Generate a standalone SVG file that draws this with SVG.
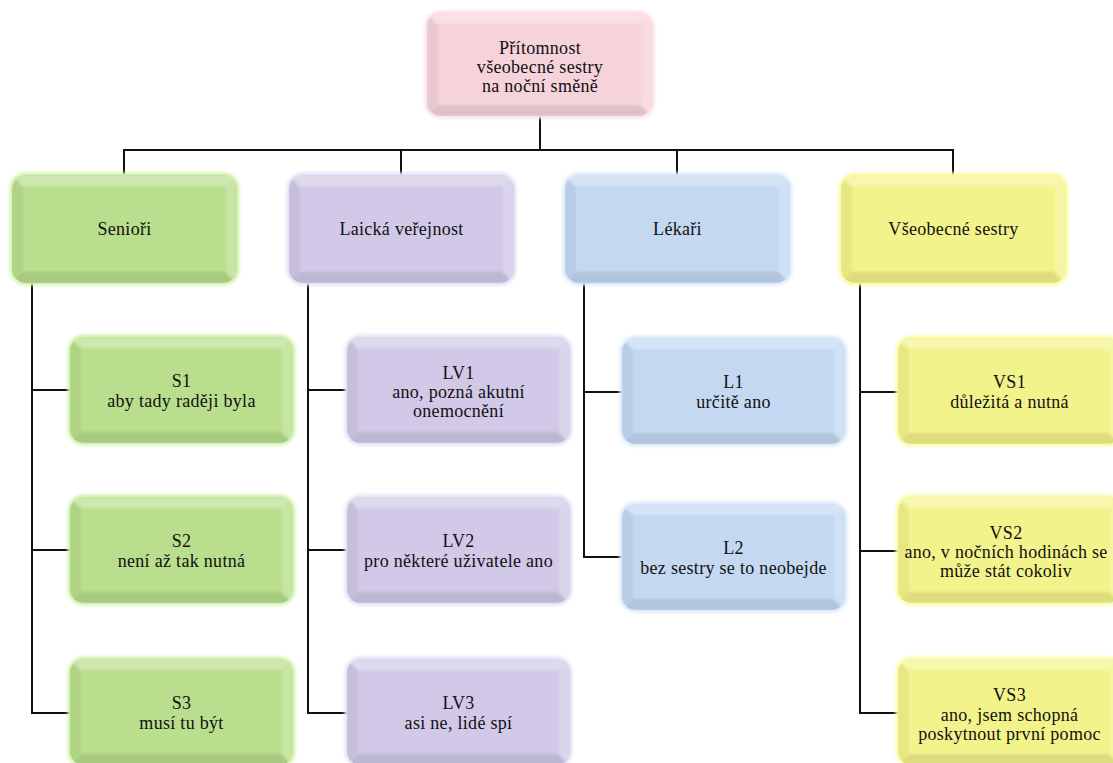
<svg xmlns="http://www.w3.org/2000/svg" xmlns:xlink="http://www.w3.org/1999/xlink" width="1113" height="763" viewBox="0 0 1113 763" font-family="Liberation Serif, Times New Roman, Times, serif">
  <defs>
    <style>
      text { font-size: 18px; letter-spacing: 0.3px; text-anchor: middle; fill: #111; }
      .line { fill: none; stroke: #111; stroke-width: 2; stroke-linecap: square; }
      .pink   { fill: #F6D3DB; color: #FAE2E7; }
      .green  { fill: #B9DE8D; color: #D3F3AE; }
      .purple { fill: #D1C9E7; color: #E7E1F7; }
      .blue   { fill: #C4D8F2; color: #DCEAFB; }
      .yellow { fill: #F3F38B; color: #FBFBA8; }
    </style>
    <filter id="glow" x="-10%" y="-10%" width="120%" height="120%">
      <feGaussianBlur stdDeviation="1.8"/>
    </filter>
    <filter id="soft" x="-5%" y="-5%" width="110%" height="110%">
      <feGaussianBlur stdDeviation="1.3"/>
    </filter>
    <clipPath id="boxclip">
      <rect x="0" y="0" width="224" height="106" rx="14"/>
    </clipPath>
    <!-- bevelled rounded box: face takes the fill, outer glow takes currentColor -->
    <symbol id="box" viewBox="0 0 224 106" preserveAspectRatio="none" overflow="visible">
      <rect x="-2.5" y="-2.5" width="229" height="111" rx="16" fill="currentColor" filter="url(#glow)"/>
      <rect x="0" y="0" width="224" height="106" rx="14"/>
      <g clip-path="url(#boxclip)">
        <g filter="url(#soft)">
          <polygon points="0,0 224,0 213,11 11,11" fill="#fff" fill-opacity="0.3"/>
          <polygon points="0,0 11,11 11,95 0,106" fill="#000" fill-opacity="0.05"/>
          <polygon points="224,0 224,106 213,95 213,11" fill="#fff" fill-opacity="0.2"/>
          <polygon points="0,106 11,95 213,95 224,106" fill="#000" fill-opacity="0.09"/>
        </g>
      </g>
    </symbol>
  </defs>

  <rect x="0" y="0" width="1113" height="763" fill="#fff"/>

  <!-- connectors -->
  <g id="connectors" class="line">
    <path d="M540 116 V150 M124 150 H953 M124 150 V175 M401 150 V175 M677 150 V175 M953 150 V175"/>
    <path d="M32 283 V713 M32 390 H70 M32 550 H70 M32 713 H70"/>
    <path d="M308 283 V713 M308 390 H347 M308 550 H347 M308 713 H347"/>
    <path d="M584 283 V557 M584 392 H622 M584 557 H622"/>
    <path d="M860 283 V713 M860 392 H898 M860 551 H898 M860 713 H898"/>
  </g>

  <!-- root -->
  <g id="root">
    <use xlink:href="#box" class="pink" x="427" y="13" width="225" height="103"/>
    <text x="540" y="54">Přítomnost<tspan x="540" dy="19">všeobecné sestry</tspan><tspan x="540" dy="19">na noční směně</tspan></text>
  </g>

  <!-- groups -->
  <g id="seniori">
    <use xlink:href="#box" class="green" x="12" y="175" width="225" height="108"/>
    <text x="124.5" y="235">Senioři</text>
  </g>
  <g id="laicka-verejnost">
    <use xlink:href="#box" class="purple" x="289" y="175" width="225" height="108"/>
    <text x="401.5" y="235">Laická veřejnost</text>
  </g>
  <g id="lekari">
    <use xlink:href="#box" class="blue" x="565" y="175" width="225" height="108"/>
    <text x="677.5" y="235">Lékaři</text>
  </g>
  <g id="vseobecne-sestry">
    <use xlink:href="#box" class="yellow" x="841" y="175" width="225" height="108"/>
    <text x="953.5" y="235">Všeobecné sestry</text>
  </g>

  <!-- seniors -->
  <g id="s1">
    <use xlink:href="#box" class="green" x="70" y="337" width="223" height="106"/>
    <text x="181.5" y="387">S1<tspan x="181.5" dy="20">aby tady raději byla</tspan></text>
  </g>
  <g id="s2">
    <use xlink:href="#box" class="green" x="70" y="497" width="223" height="106"/>
    <text x="181.5" y="547">S2<tspan x="181.5" dy="20">není až tak nutná</tspan></text>
  </g>
  <g id="s3">
    <use xlink:href="#box" class="green" x="70" y="659" width="223" height="106"/>
    <text x="181.5" y="709">S3<tspan x="181.5" dy="20">musí tu být</tspan></text>
  </g>

  <!-- lay public -->
  <g id="lv1">
    <use xlink:href="#box" class="purple" x="347" y="337" width="223" height="106"/>
    <text x="458.5" y="379">LV1<tspan x="458.5" dy="19">ano, pozná akutní</tspan><tspan x="458.5" dy="19">onemocnění</tspan></text>
  </g>
  <g id="lv2">
    <use xlink:href="#box" class="purple" x="347" y="497" width="223" height="106"/>
    <text x="458.5" y="547">LV2<tspan x="458.5" dy="20">pro některé uživatele ano</tspan></text>
  </g>
  <g id="lv3">
    <use xlink:href="#box" class="purple" x="347" y="659" width="223" height="106"/>
    <text x="458.5" y="709">LV3<tspan x="458.5" dy="20">asi ne, lidé spí</tspan></text>
  </g>

  <!-- doctors -->
  <g id="l1">
    <use xlink:href="#box" class="blue" x="622" y="338" width="223" height="106"/>
    <text x="733.5" y="388">L1<tspan x="733.5" dy="20">určitě ano</tspan></text>
  </g>
  <g id="l2">
    <use xlink:href="#box" class="blue" x="622" y="504" width="223" height="106"/>
    <text x="733.5" y="554">L2<tspan x="733.5" dy="20">bez sestry se to neobejde</tspan></text>
  </g>

  <!-- general nurses -->
  <g id="vs1">
    <use xlink:href="#box" class="yellow" x="898" y="338" width="223" height="106"/>
    <text x="1009.5" y="388">VS1<tspan x="1009.5" dy="20">důležitá a nutná</tspan></text>
  </g>
  <g id="vs2">
    <use xlink:href="#box" class="yellow" x="898" y="497" width="223" height="106"/>
    <text x="1006" y="539">VS2<tspan x="1006" dy="19">ano, v nočních hodinách se</tspan><tspan x="1006" dy="19">může stát cokoliv</tspan></text>
  </g>
  <g id="vs3">
    <use xlink:href="#box" class="yellow" x="898" y="659" width="223" height="106"/>
    <text x="1009.5" y="701">VS3<tspan x="1009.5" dy="19.5">ano, jsem schopná</tspan><tspan x="1009.5" dy="19.5">poskytnout první pomoc</tspan></text>
  </g>
</svg>
